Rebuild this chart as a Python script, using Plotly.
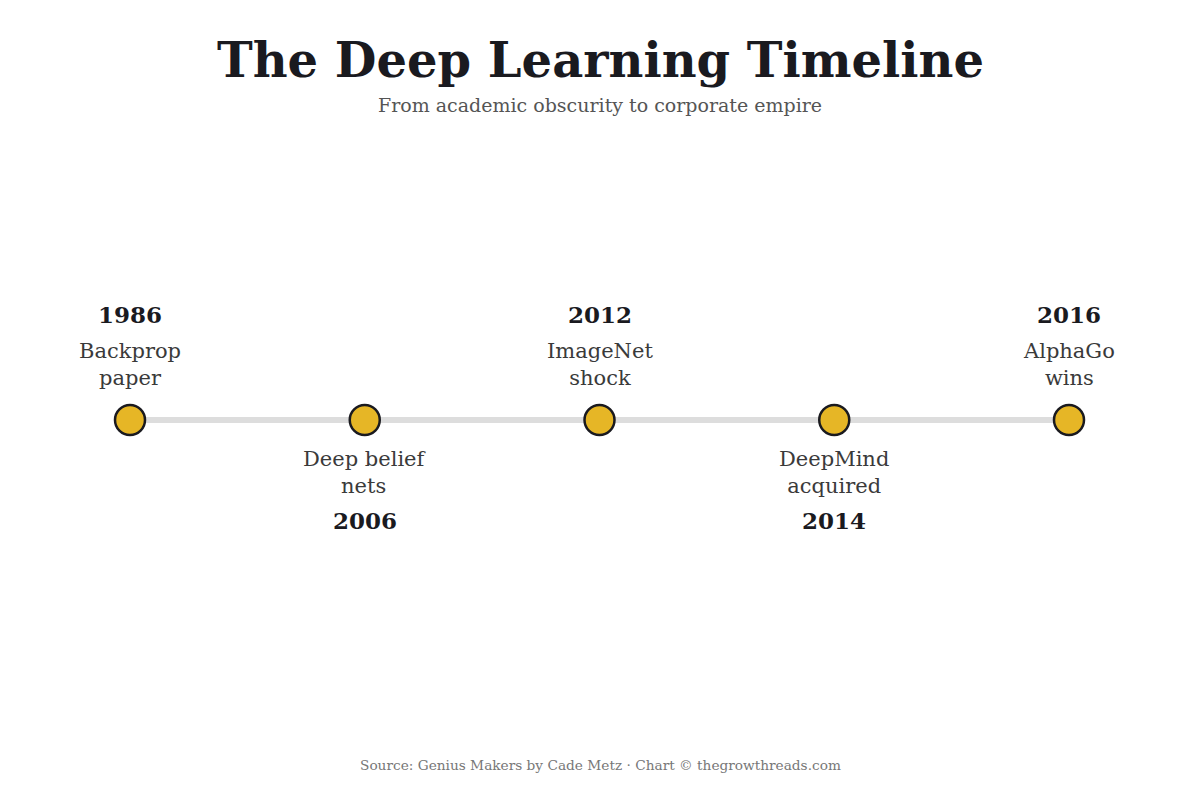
import plotly.graph_objects as go

# dados da linha do tempo
years  = ["1986", "2006", "2012", "2014", "2016"]
events = ["Backprop<br>paper", "Deep belief<br>nets", "ImageNet<br>shock",
          "DeepMind<br>acquired", "AlphaGo<br>wins"]
side   = ["up", "down", "up", "down", "up"]   # lado do rótulo

TITLE    = "<b>The Deep Learning Timeline</b>"
SUBTITLE = "From academic obscurity to corporate empire"
SOURCE   = "Source: Genius Makers by Cade Metz · Chart © thegrowthreads.com"

FONT = "Georgia, 'DejaVu Serif', 'Liberation Serif', serif"
GOLD = "#E6B626"
INK  = "#1a1a1f"
W, H = 1200, 800
OFF  = 8          # margem padrão do <body> na página
STEP = 234.75     # px entre marcos

idx = list(range(len(years)))

def py(px_from_top):
    # posição vertical da página -> fração do paper
    return 1 - (px_from_top - OFF) / H

XC = (W / 2 - OFF) / W   # centro horizontal da página, em paper

fig = go.Figure()

# linha base
fig.add_trace(go.Scatter(
    x=idx, y=[0] * len(idx), mode="lines",
    line=dict(color="#dddddd", width=6),
    hoverinfo="skip", showlegend=False,
))

# marcadores
fig.add_trace(go.Scatter(
    x=idx, y=[0] * len(idx), mode="markers",
    marker=dict(size=30, color=GOLD, line=dict(color=INK, width=2.5)),
    text=[f"{y}: {e.replace('<br>', ' ')}" for y, e in zip(years, events)],
    hoverinfo="text", showlegend=False,
))

anns = []
for i, (yr, ev, s) in enumerate(zip(years, events, side)):
    if s == "up":
        y_year, y_ev = 106, 56
    else:
        y_year, y_ev = -100, -52
    anns.append(dict(x=i, y=y_year, xref="x", yref="y", text=f"<b>{yr}</b>",
                     showarrow=False, yanchor="middle",
                     font=dict(family=FONT, size=23, color=INK)))
    anns.append(dict(x=i, y=y_ev, xref="x", yref="y", text=ev,
                     showarrow=False, yanchor="middle",
                     font=dict(family=FONT, size=21, color="#3a3a3a")))

anns += [
    dict(x=XC, y=py(60), xref="paper", yref="paper", text=TITLE,
         showarrow=False, xanchor="center", yanchor="middle",
         font=dict(family=FONT, size=48, color=INK)),
    dict(x=XC, y=py(105), xref="paper", yref="paper", text=SUBTITLE,
         showarrow=False, xanchor="center", yanchor="middle",
         font=dict(family=FONT, size=19, color="#555555")),
    dict(x=XC, y=py(765), xref="paper", yref="paper", text=SOURCE,
         showarrow=False, xanchor="center", yanchor="middle",
         font=dict(family=FONT, size=13.7, color="#777777")),
]

x0 = 130 - OFF
y0 = 420 - OFF
fig.update_layout(
    width=W, height=H,
    paper_bgcolor="white", plot_bgcolor="white",
    margin=dict(t=0, b=0, l=0, r=0),
    xaxis=dict(visible=False, range=[-x0 / STEP, (W - x0) / STEP], fixedrange=True),
    yaxis=dict(visible=False, range=[-(H - y0), y0], fixedrange=True),
    annotations=anns,
    showlegend=False,
)

fig.write_html("out.html")
